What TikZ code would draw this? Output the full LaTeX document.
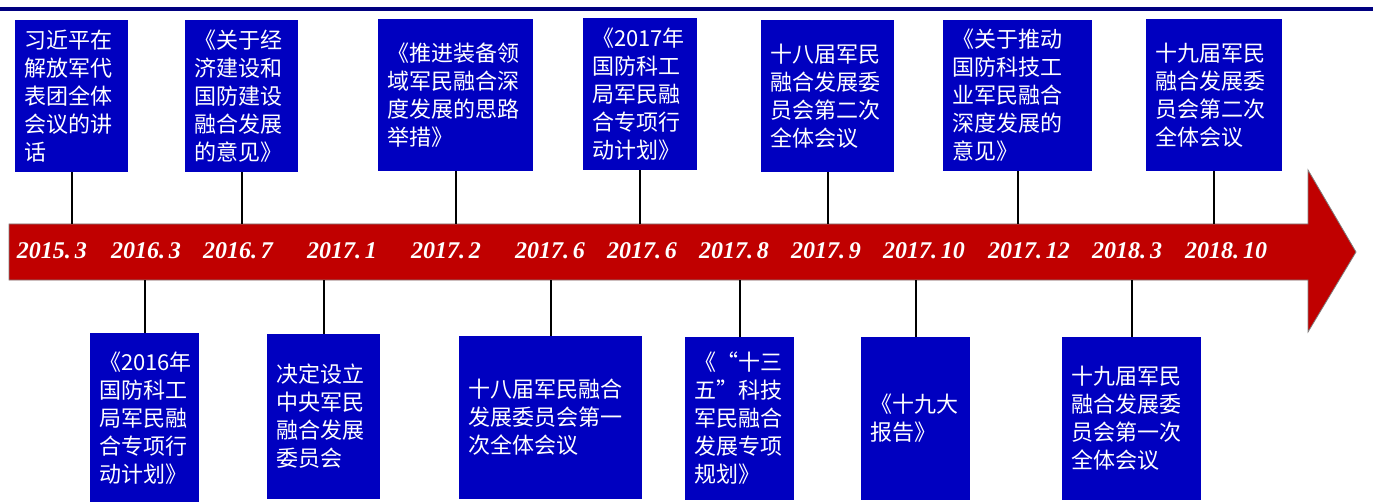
\documentclass[tikz,border=0pt]{standalone}
\usepackage{xcolor}
\usepackage{fontspec}
\setmainfont{Liberation Serif}
\newfontfamily\cjk{Noto Sans CJK SC}
\usepackage{tikz}
\definecolor{EventBlue}{HTML}{0000C0}
\definecolor{BandRed}{HTML}{C00000}
\definecolor{RuleNavy}{HTML}{000080}
\definecolor{EdgeGray}{HTML}{808080}
\tikzset{%
  eventbox/.style={fill=EventBlue,text=white,align=left,inner xsep=6.75pt,
    inner ysep=0pt,font=\cjk\fontsize{16.5pt}{21pt}\selectfont},
  datelabel/.style={text=white,inner sep=0pt,
    font=\bfseries\itshape\fontsize{18pt}{20pt}\selectfont},
  band/.style={fill=BandRed,draw=EdgeGray,line width=0.6pt},
  topline/.style={RuleNavy,line width=3pt},
  stem/.style={black,line width=1.5pt}
}

\begin{document}
\begin{tikzpicture}[x=0.75pt,y=-0.75pt]
      \useasboundingbox (0,0) rectangle (1373,502);
      \draw[topline] (0,9) -- (1373,9);
      % timeline band
      \draw[band] (9,224) -- (1308,224) -- (1308,170) -- (1356,252)
        -- (1308,332) -- (1308,280) -- (9,280) -- cycle;
      \coordinate (bandtop) at (0,224);
      \coordinate (bandbottom) at (0,280);
      % dates
      \node[datelabel] (d1) at (52,251) {2015.\,3};
      \node[datelabel] (d2) at (146,251) {2016.\,3};
      \node[datelabel] (d3) at (238,251) {2016.\,7};
      \node[datelabel] (d4) at (342,251) {2017.\,1};
      \node[datelabel] (d5) at (446,251) {2017.\,2};
      \node[datelabel] (d6) at (550,251) {2017.\,6};
      \node[datelabel] (d7) at (642,251) {2017.\,6};
      \node[datelabel] (d8) at (734,251) {2017.\,8};
      \node[datelabel] (d9) at (826,251) {2017.\,9};
      \node[datelabel] (d10) at (924,251) {2017.\,10};
      \node[datelabel] (d11) at (1029,251) {2017.\,12};
      \node[datelabel] (d12) at (1127,251) {2018.\,3};
      \node[datelabel] (d13) at (1226,251) {2018.\,10};
      % events above
      \node[eventbox, text width=71.25pt, minimum height=114pt] (speech) at (71.5,96)
        {习近平在\\解放军代\\表团全体\\会议的讲\\话};
      \node[eventbox, text width=71.25pt, minimum height=114pt] (opinion) at (241.5,96)
        {《关于经\\济建设和\\国防建设\\融合发展\\的意见》};
      \node[eventbox, text width=102.75pt, minimum height=114pt] (equip) at (455.5,95)
        {《推进装备领\\域军民融合深\\度发展的思路\\举措》};
      \node[eventbox, text width=72pt, minimum height=114pt] (plan17) at (640,94)
        {《2017年\\国防科工\\局军民融\\合专项行\\动计划》};
      \node[eventbox, text width=86.25pt, minimum height=114pt] (second18) at (827.5,96)
        {十八届军民\\融合发展委\\员会第二次\\全体会议};
      \node[eventbox, text width=98.25pt, minimum height=113.25pt] (industry) at (1017.5,95.5)
        {《关于推动\\国防科技工\\业军民融合\\深度发展的\\意见》};
      \node[eventbox, text width=88.5pt, minimum height=114pt] (second19) at (1214,95)
        {十九届军民\\融合发展委\\员会第二次\\全体会议};
      % events below
      \node[eventbox, text width=68.25pt, minimum height=127.5pt] (plan16) at (144.5,418)
        {《2016年\\国防科工\\局军民融\\合专项行\\动计划》};
      \node[eventbox, text width=71.25pt, minimum height=123.75pt] (central) at (323.5,416.5)
        {决定设立\\中央军民\\融合发展\\委员会};
      \node[eventbox, text width=123.75pt, minimum height=122.25pt] (first18) at (550.5,417.5)
        {十八届军民融合\\发展委员会第一\\次全体会议};
      \node[eventbox, text width=68.25pt, minimum height=122.25pt] (fyp) at (739.5,418.5)
        {《“十三\\五”科技\\军民融合\\发展专项\\规划》};
      \node[eventbox, text width=68.25pt, minimum height=122.25pt] (report) at (915.5,418.5)
        {《十九大\\报告》};
      \node[eventbox, text width=90.75pt, minimum height=122.25pt] (first19) at (1131.5,418.5)
        {十九届军民\\融合发展委\\员会第一次\\全体会议};
      % stems
      \draw[stem] (speech.south) -- (speech.south |- bandtop);
      \draw[stem] (opinion.south) -- (opinion.south |- bandtop);
      \draw[stem] (equip.south) -- (equip.south |- bandtop);
      \draw[stem] (plan17.south) -- (plan17.south |- bandtop);
      \draw[stem] (second18.south) -- (second18.south |- bandtop);
      \draw[stem] (industry.south) -- (industry.south |- bandtop);
      \draw[stem] (second19.south) -- (second19.south |- bandtop);
      \draw[stem] (plan16.north) -- (plan16.north |- bandbottom);
      \draw[stem] (central.north) -- (central.north |- bandbottom);
      \draw[stem] (first18.north) -- (first18.north |- bandbottom);
      \draw[stem] (fyp.north) -- (fyp.north |- bandbottom);
      \draw[stem] (report.north) -- (report.north |- bandbottom);
      \draw[stem] (first19.north) -- (first19.north |- bandbottom);
    \end{tikzpicture}
\end{document}
